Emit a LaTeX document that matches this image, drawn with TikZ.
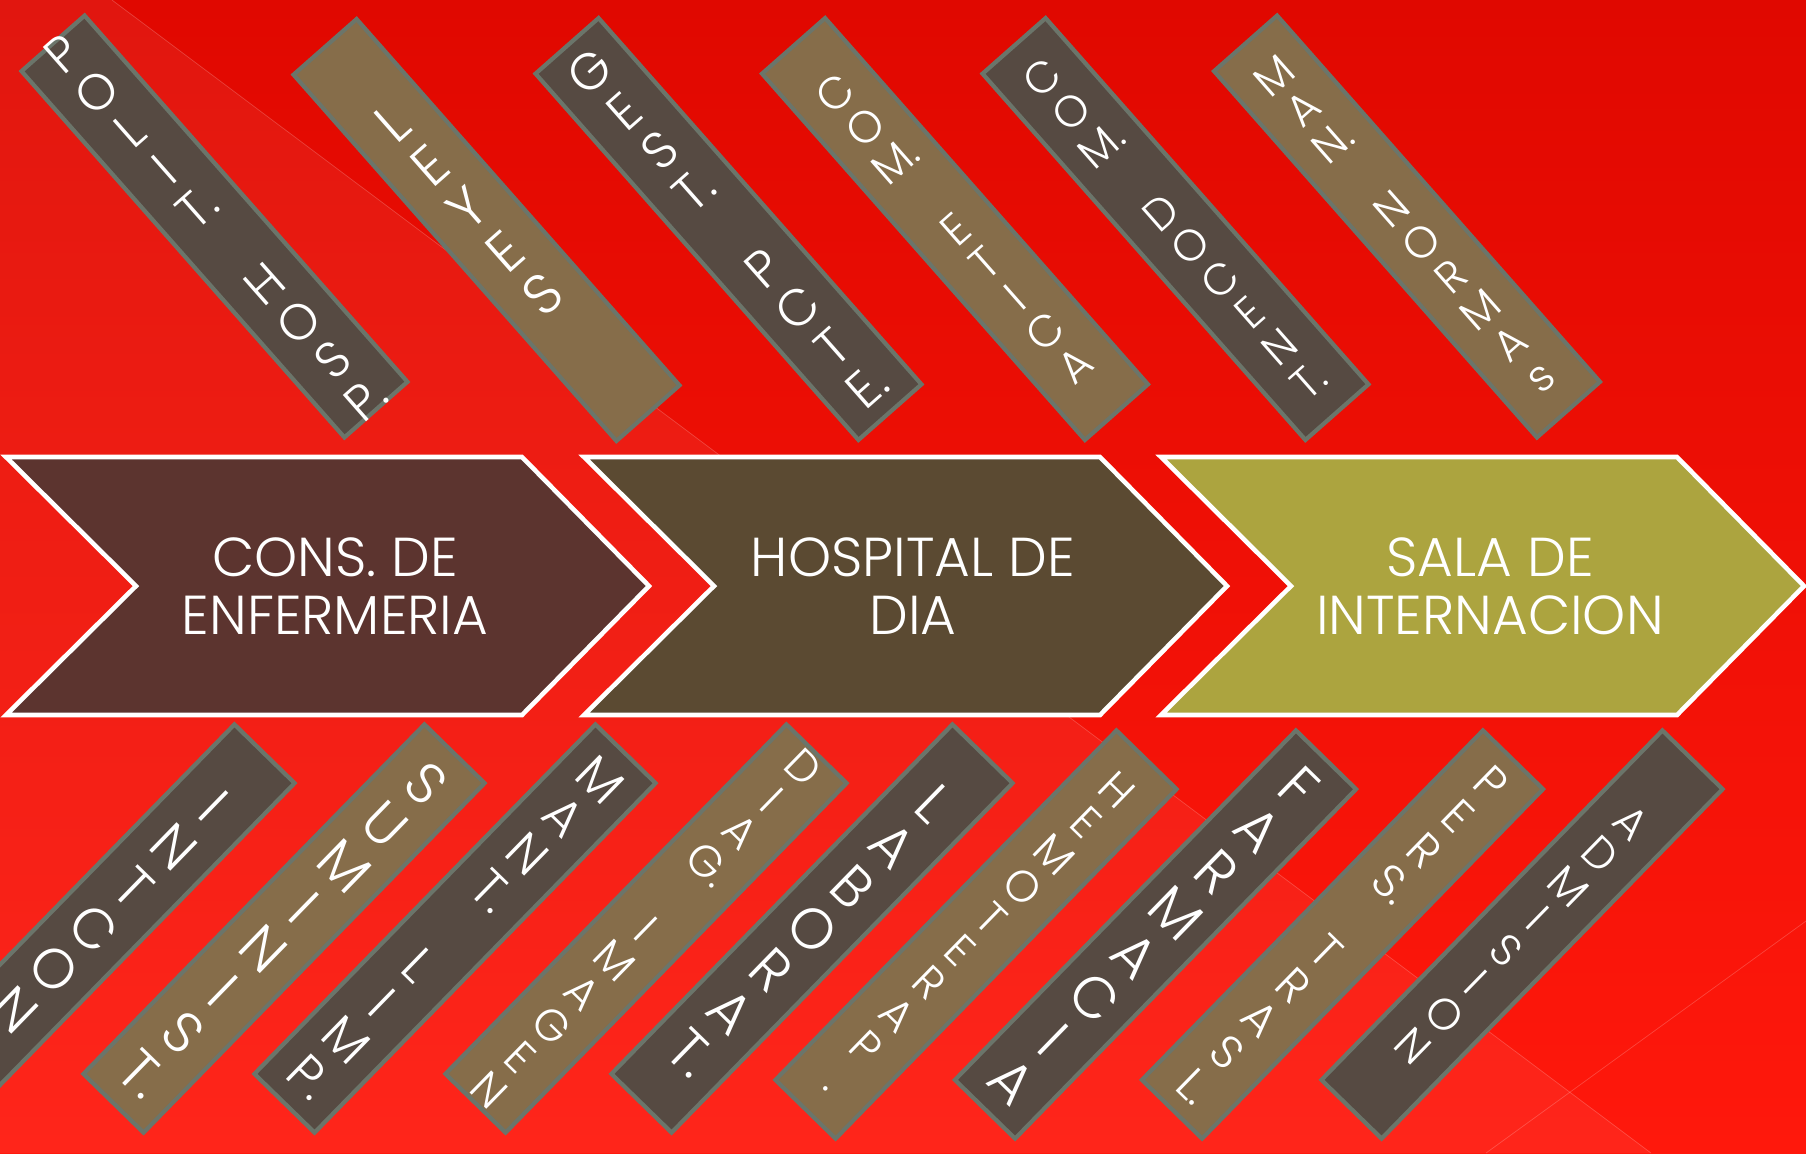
\documentclass[tikz,border=0pt]{standalone}
\usepackage{fontspec}
\IfFontExistsTF{Poppins Light}{\setmainfont{Poppins Light}}{\setmainfont{Poppins}}
\usetikzlibrary{positioning}

\definecolor{bgtop}{RGB}{224,8,0}
\definecolor{bgbot}{RGB}{255,24,12}
\definecolor{darkbar}{RGB}{86,74,66}
\definecolor{tanbar}{RGB}{134,109,74}
\definecolor{barline}{RGB}{107,117,106}
\definecolor{chevA}{RGB}{92,52,47}
\definecolor{chevB}{RGB}{91,74,50}
\definecolor{chevC}{RGB}{172,164,63}

\tikzset{
  bar/.style={draw=barline, line width=1.2pt, minimum width=0.84cm,
    minimum height=4.88cm, inner sep=0pt},
  topbar/.style={bar, rotate=41.4},
  lowbar/.style={bar, rotate=-44.3},
  lbl/.style 2 args={text=white, align=center, inner sep=0pt,
    font=\fontsize{#1}{#2}\selectfont},
  chev/.style={draw=white, line width=1.3pt, line join=miter},
  head/.style={text=white, align=center, inner sep=0pt,
    font=\fontsize{15.6}{16.5}\selectfont}
}

\begin{document}
\begin{tikzpicture}[x=0.01cm,y=-0.01cm]
\useasboundingbox (0,0) rectangle (1806,1153);
% background
\shade[top color=bgtop, bottom color=bgbot] (0,0) rectangle (1806,1153);
\fill[white, opacity=.06] (0,0) -- (112,0) -- (1651,1153) -- (0,1153) -- cycle;
\draw[white, opacity=.2, very thin] (112,0) -- (1651,1153);
\draw[white, opacity=.2, very thin] (1806,921) -- (1486,1153);

% chevrons
\foreach \i/\xl/\col/\txt in {1/6/chevA/{CONS. DE\\ENFERMERIA},
  2/584/chevB/{HOSPITAL DE\\DIA}, 3/1161/chevC/{SALA DE\\INTERNACION}}
{
  \draw[chev, fill=\col] (\xl,457) -- ++(516,0) -- ++(127,129) -- ++(-127,129)
    -- ++(-516,0) -- ++(130,-129) -- cycle;
  \node[head] (c\i) at (\xl+329,586) {\txt};
}

% upper bars
\foreach \n/\x/\y/\col/\fs/\sk/\txt in {
  t1/214.5/226.5/darkbar/14.3/14.5/{P\\O\\L\\I\\T.\\\mbox{}\\H\\O\\S\\P.},
  t2/486.5/230/tanbar/15.9/16.2/{L\\E\\Y\\E\\S\\\mbox{}},
  t3/728.5/229/darkbar/14.6/14.9/{G\\E\\S\\T.\\\mbox{}\\P\\C\\T\\E.},
  t4/955/229/tanbar/12.7/12.9/{C\\O\\M.\\\mbox{}\\E\\T\\I\\C\\A},
  t5/1175.5/229/darkbar/12.5/12.75/{C\\O\\M.\\\mbox{}\\D\\O\\C\\E\\N\\T.},
  t6/1407/226.5/tanbar/12.5/12.7/{M\\A\\N.\\\mbox{}\\N\\O\\R\\M\\A\\s}}
{
  \node[topbar, fill=\col] (\n) at (\x,\y) {};
  \node[lbl={\fs}{\sk}, rotate=41.4] (\n txt) at (\n.center) {\txt};
}

% lower bars
\foreach \n/\x/\y/\col/\fs/\sk/\txt in {
  b1/94/928.5/darkbar/15.9/16.2/{I\\N\\T\\C\\O\\N\\\mbox{}},
  b2/284/928.5/tanbar/16.2/16.5/{S\\U\\M\\I\\N\\I\\S\\T.},
  b3/455/928.5/darkbar/14.5/14.8/{M\\A\\N\\T.\\\mbox{}\\L\\I\\M\\P.},
  b4/646/928.5/tanbar/12.6/12.8/{D\\I\\A\\G.\\\mbox{}\\I\\M\\A\\G\\E\\N},
  b5/812/928.5/darkbar/16.2/16.5/{L\\A\\B\\O\\R\\A\\T.},
  b6/976/934.5/tanbar/12.5/12.75/{H\\E\\M\\O\\T\\E\\R\\A\\P\\.},
  b7/1155.5/934.5/darkbar/16.4/16.7/{F\\A\\R\\M\\A\\C\\I\\A},
  b8/1342.5/934.5/tanbar/13.1/13.4/{P\\E\\R\\S.\\\mbox{}\\T\\R\\A\\S\\L.},
  b9/1522/934.5/darkbar/12.5/12.7/{A\\D\\M\\I\\S\\I\\O\\N}}
{
  \node[lowbar, fill=\col] (\n) at (\x,\y) {};
  \node[lbl={\fs}{\sk}, rotate=-44.3] (\n txt) at (\n.center) {\txt};
}
\end{tikzpicture}
\end{document}
